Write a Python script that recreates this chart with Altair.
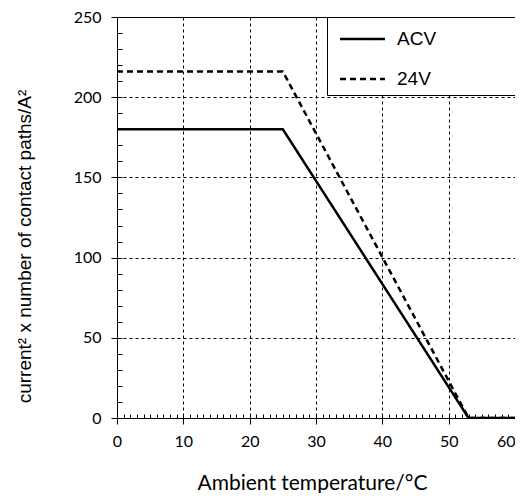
import altair as alt
import pandas as pd

# ---- data ----
series = ["ACV", "24V"]
temp_acv = [0, 25, 53, 60]
val_acv = [180, 180, 0, 0]
temp_24v = [0, 25, 53, 60]
val_24v = [216, 216, 0, 0]

x_ticks = [0, 10, 20, 30, 40, 50, 60]
y_ticks = [0, 50, 100, 150, 200, 250]
x_minor = list(range(0, 61))
y_minor = list(range(0, 251, 10))

df = pd.DataFrame({
    "temp": temp_acv + temp_24v,
    "value": val_acv + val_24v,
    "series": [series[0]] * len(temp_acv) + [series[1]] * len(temp_24v),
})

W, H = 398, 401
TICK_FONT = "Lato"

xscale = alt.Scale(domain=[0, 60], nice=False, zero=False)
yscale = alt.Scale(domain=[0, 250], nice=False)

lines = alt.Chart(df).mark_line(color="black", strokeWidth=2.5, clip=True).encode(
    x=alt.X("temp:Q", scale=xscale,
            axis=alt.Axis(values=x_ticks, title="Ambient temperature/°C",
                          grid=True, gridColor="black", gridDash=[3, 3], gridWidth=1, gridOpacity=1,
                          domain=False, tickColor="black", tickSize=6, tickWidth=1,
                          labelFlush=False,
                          labelAlign={"condition": {"test": "datum.value >= 60", "value": "right"},
                                      "value": "center"},
                          labelFont=TICK_FONT, labelFontSize=16, labelColor="black", labelPadding=9,
                          titleFont=TICK_FONT, titleFontSize=21, titleFontWeight="normal",
                          titleColor="black", titleBaseline="alphabetic", titleX=195, titleY=71)),
    y=alt.Y("value:Q", scale=yscale,
            axis=alt.Axis(values=y_ticks, title="current² x number of contact paths/A²",
                          grid=True, gridColor="black", gridDash=[3, 3], gridWidth=1, gridOpacity=1,
                          domain=False, tickColor="black", tickSize=6, tickWidth=1,
                          labelFont=TICK_FONT, labelFontSize=16, labelColor="black", labelPadding=10,
                          titleFont="Liberation Sans", titleFontSize=19, titleFontWeight="normal",
                          titleColor="black", titleBaseline="alphabetic", titleAlign="center",
                          titleX=-87, titleY=229)),
    strokeDash=alt.StrokeDash("series:N",
                              scale=alt.Scale(domain=series, range=[[1, 0], [6, 4]]),
                              sort=series,
                              legend=alt.Legend(title="ACVACV", titleOrient="right", titleOpacity=0,
                                                titleFont="Liberation Sans", titleFontSize=16,
                                                titlePadding=9,
                                                orient="none", legendX=210, legendY=0,
                                                fillColor="white", strokeColor="black", padding=5.5,
                                                symbolOffset=13.5,
                                                symbolType="M-1.475,0H1.475", symbolSize=930,
                                                symbolStrokeWidth=2.5, symbolStrokeColor="black",
                                                labelFont="Liberation Sans", labelFontSize=19,
                                                labelColor="black", labelOffset=18, rowPadding=13)),
    detail="series:N",
)

minor = alt.Chart(df).mark_line(opacity=0).encode(
    x=alt.X("temp:Q", scale=xscale,
            axis=alt.Axis(orient="top", offset=-H, values=x_minor, labels=False, title=None,
                          grid=False, domain=False, tickColor="black", tickSize=4, tickWidth=1)),
    y=alt.Y("value:Q", scale=yscale,
            axis=alt.Axis(orient="right", offset=-W, values=y_minor, labels=False, title=None,
                          grid=False, domain=False, tickColor="black", tickSize=5, tickWidth=1)),
)

chart = alt.layer(lines, minor).resolve_axis(x="independent", y="independent").properties(
    width=W, height=H,
    autosize="none",
    padding={"left": 109, "top": 9, "right": 0, "bottom": 75},
).configure_view(stroke="black", strokeWidth=1)

chart.save("out.html", embed_options={"renderer": "svg", "actions": False})
